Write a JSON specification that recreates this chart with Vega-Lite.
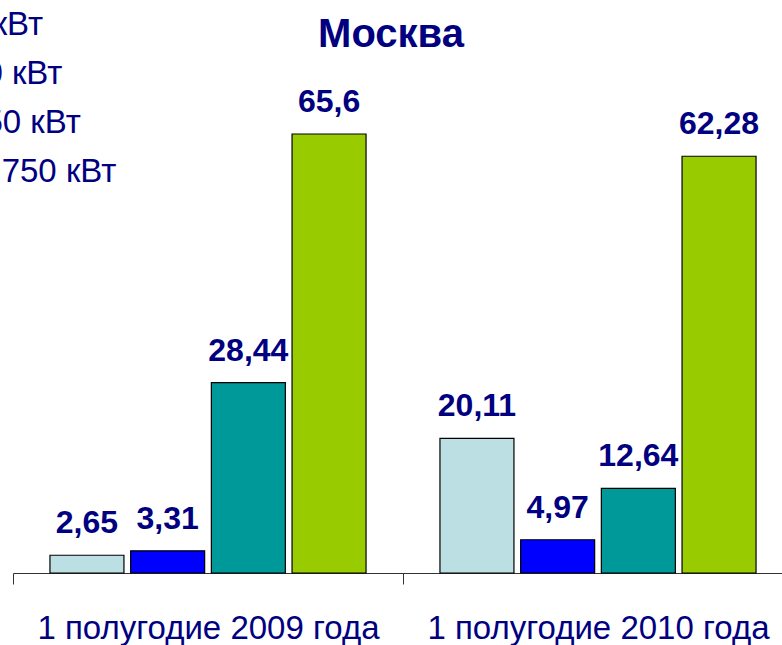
{
  "$schema": "https://vega.github.io/schema/vega-lite/v6.json",
  "width": 782,
  "height": 513,
  "autosize": {"type": "none"},
  "padding": {"left": 0, "top": 60, "right": 0, "bottom": 72},
  "title": {"text": "Москва", "font": "Liberation Sans", "fontSize": 40, "fontWeight": "bold", "color": "#000080", "anchor": "middle", "baseline": "alphabetic", "offset": -79},
  "data": {"values": [
    {"period": "1 полугодие 2009 года", "cat": "до 15 кВт", "value": 2.65},
    {"period": "1 полугодие 2009 года", "cat": "15-100 кВт", "value": 3.31},
    {"period": "1 полугодие 2009 года", "cat": "100-750 кВт", "value": 28.44},
    {"period": "1 полугодие 2009 года", "cat": "более 750 кВт", "value": 65.6},
    {"period": "1 полугодие 2010 года", "cat": "до 15 кВт", "value": 20.11},
    {"period": "1 полугодие 2010 года", "cat": "15-100 кВт", "value": 4.97},
    {"period": "1 полугодие 2010 года", "cat": "100-750 кВт", "value": 12.64},
    {"period": "1 полугодие 2010 года", "cat": "более 750 кВт", "value": 62.28}
  ]},
  "encoding": {
    "x": {
      "field": "period", "type": "nominal", "sort": null,
      "scale": {"range": [13, 793], "paddingInner": 0, "paddingOuter": 0},
      "axis": {"title": null, "domainColor": "#333333", "tickColor": "#333333", "tickSize": 11, "tickBand": "extent", "labelFontSize": 33, "labelFont": "Liberation Sans", "labelColor": "#000080", "labelPadding": 54, "labelAngle": 0, "labelBaseline": "alphabetic", "labelLimit": 0}
    },
    "xOffset": {
      "field": "cat", "type": "nominal",
      "sort": ["до 15 кВт", "15-100 кВт", "100-750 кВт", "более 750 кВт"],
      "scale": {"paddingInner": 0.083, "paddingOuter": 0.458}
    },
    "y": {"field": "value", "type": "quantitative", "scale": {"domain": [0, 76.66], "nice": false}, "axis": null}
  },
  "layer": [
    {
      "mark": {"type": "bar", "stroke": "#000000", "strokeWidth": 1.2},
      "encoding": {
        "color": {
          "field": "cat", "type": "nominal",
          "sort": ["до 15 кВт", "15-100 кВт", "100-750 кВт", "более 750 кВт"],
          "scale": {"range": ["#BBDFE2", "#0000FF", "#009999", "#99CC00"]},
          "legend": {"orient": "none", "legendX": -137, "legendY": -52, "title": null, "labelFontSize": 33, "labelFont": "Liberation Sans", "labelColor": "#000080", "labelLimit": 0, "symbolType": "square", "symbolSize": 200, "rowPadding": 15, "padding": 0, "symbolStrokeColor": "#000000"}
        }
      }
    },
    {
      "mark": {"type": "text", "dy": -22, "baseline": "alphabetic", "font": "Liberation Sans", "fontSize": 32, "fontWeight": "bold", "color": "#000080"},
      "encoding": {"text": {"field": "value", "type": "quantitative", "format": ".2~f"}}
    }
  ],
  "config": {
    "view": {"stroke": null},
    "locale": {"number": {"decimal": ",", "thousands": " ", "grouping": [3], "currency": ["", ""]}}
  }
}
